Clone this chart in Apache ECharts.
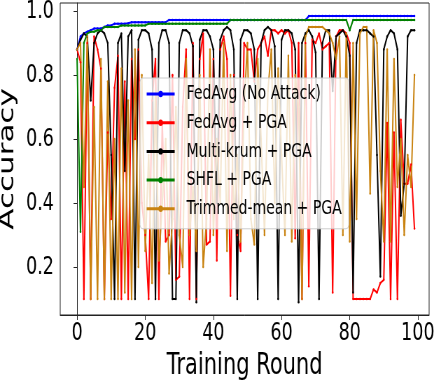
<!DOCTYPE html>
<html>
<head>
<meta charset="utf-8">
<script src="https://cdn.jsdelivr.net/npm/echarts@6/dist/echarts.min.js"></script>
<style>
  html, body { margin: 0; padding: 0; background: #fff; overflow: hidden; }
  /* the reference figure is squeezed horizontally, so draw wide and scale down */
  #chart { width: 623px; height: 382px; transform: scaleX(0.7); transform-origin: 0 0; }
</style>
</head>
<body>
<div id="chart"></div>
<script>
// training rounds 0..99
const rounds = [...new Array(100)].map((_, i) => i)

const xTicks = [0, 20, 40, 60, 80, 100]
const yTicks = [0.2, 0.4, 0.6, 0.8, 1.0]

// FedAvg (No Attack)
const fedAvgClean = [
  0.88, 0.92, 0.93, 0.935, 0.94, 0.945, 0.945, 0.945, 0.95, 0.955,
  0.955, 0.96, 0.96, 0.96, 0.96, 0.962, 0.965, 0.965, 0.965, 0.965,
  0.965, 0.965, 0.965, 0.965, 0.965, 0.965, 0.965, 0.972, 0.972, 0.972,
  0.972, 0.972, 0.972, 0.972, 0.972, 0.972, 0.972, 0.972, 0.972, 0.972,
  0.972, 0.972, 0.972, 0.972, 0.972, 0.972, 0.972, 0.972, 0.972, 0.972,
  0.972, 0.972, 0.972, 0.972, 0.972, 0.972, 0.972, 0.972, 0.972, 0.972,
  0.972, 0.972, 0.972, 0.972, 0.972, 0.972, 0.972, 0.972, 0.984, 0.984,
  0.984, 0.984, 0.984, 0.984, 0.984, 0.984, 0.984, 0.984, 0.984, 0.984,
  0.984, 0.984, 0.984, 0.984, 0.984, 0.984, 0.984, 0.984, 0.984, 0.984,
  0.984, 0.984, 0.984, 0.984, 0.984, 0.984, 0.984, 0.984, 0.984, 0.984
]

// FedAvg + PGA
const fedAvgPga = [
  0.88, 0.84, 0.10, 0.90, 0.10, 0.92, 0.88, 0.82, 0.10, 0.62,
  0.35, 0.76, 0.86, 0.10, 0.78, 0.10, 0.85, 0.60, 0.88, 0.40,
  0.30, 0.10, 0.72, 0.85, 0.10, 0.65, 0.28, 0.30, 0.80, 0.16,
  0.17, 0.70, 0.88, 0.10, 0.90, 0.10, 0.85, 0.93, 0.27, 0.28,
  0.85, 0.22, 0.88, 0.92, 0.85, 0.11, 0.80, 0.30, 0.25, 0.90,
  0.88, 0.88, 0.78, 0.88, 0.90, 0.92, 0.86, 0.94, 0.94, 0.93,
  0.94, 0.93, 0.94, 0.90, 0.29, 0.90, 0.10, 0.90, 0.14, 0.91,
  0.90, 0.93, 0.88, 0.89, 0.90, 0.12, 0.92, 0.94, 0.94, 0.93,
  0.90, 0.10, 0.10, 0.10, 0.10, 0.10, 0.10, 0.13, 0.12, 0.15,
  0.16, 0.65, 0.10, 0.62, 0.10, 0.66, 0.46, 0.46, 0.52, 0.32
]

// Multi-krum + PGA
const multiKrumPga = [
  0.88, 0.91, 0.93, 0.92, 0.72, 0.90, 0.93, 0.94, 0.93, 0.90,
  0.55, 0.10, 0.90, 0.93, 0.50, 0.92, 0.94, 0.10, 0.91, 0.94,
  0.94, 0.93, 0.88, 0.10, 0.90, 0.94, 0.94, 0.90, 0.10, 0.10,
  0.90, 0.94, 0.94, 0.93, 0.89, 0.09, 0.91, 0.94, 0.94, 0.92,
  0.88, 0.40, 0.91, 0.94, 0.95, 0.94, 0.88, 0.10, 0.91, 0.94,
  0.94, 0.93, 0.88, 0.10, 0.90, 0.94, 0.95, 0.94, 0.89, 0.10,
  0.91, 0.94, 0.94, 0.93, 0.88, 0.09, 0.90, 0.93, 0.94, 0.92,
  0.87, 0.10, 0.90, 0.94, 0.94, 0.75, 0.92, 0.93, 0.94, 0.92,
  0.86, 0.12, 0.90, 0.94, 0.94, 0.94, 0.93, 0.92, 0.55, 0.17,
  0.88, 0.92, 0.94, 0.93, 0.88, 0.36, 0.46, 0.92, 0.94, 0.94
]

// SHFL + PGA
const shflPga = [
  0.85, 0.31, 0.90, 0.93, 0.935, 0.935, 0.94, 0.94, 0.95, 0.95,
  0.95, 0.95, 0.95, 0.955, 0.955, 0.955, 0.955, 0.955, 0.955, 0.955,
  0.955, 0.96, 0.96, 0.96, 0.96, 0.96, 0.96, 0.96, 0.96, 0.96,
  0.96, 0.96, 0.96, 0.96, 0.96, 0.96, 0.96, 0.96, 0.96, 0.96,
  0.96, 0.96, 0.96, 0.96, 0.96, 0.972, 0.972, 0.972, 0.972, 0.972,
  0.972, 0.972, 0.972, 0.972, 0.972, 0.972, 0.972, 0.972, 0.972, 0.972,
  0.972, 0.972, 0.972, 0.972, 0.972, 0.972, 0.972, 0.972, 0.972, 0.972,
  0.972, 0.972, 0.972, 0.972, 0.972, 0.972, 0.972, 0.972, 0.972, 0.972,
  0.94, 0.972, 0.972, 0.972, 0.972, 0.972, 0.972, 0.972, 0.972, 0.972,
  0.972, 0.972, 0.972, 0.972, 0.972, 0.972, 0.972, 0.972, 0.972, 0.972
]

// Trimmed-mean + PGA
const trimmedMeanPga = [
  0.88, 0.90, 0.45, 0.92, 0.10, 0.70, 0.10, 0.85, 0.10, 0.78,
  0.10, 0.60, 0.10, 0.82, 0.12, 0.72, 0.10, 0.88, 0.20, 0.80,
  0.25, 0.55, 0.15, 0.75, 0.22, 0.40, 0.60, 0.18, 0.35, 0.70,
  0.30, 0.20, 0.85, 0.30, 0.45, 0.25, 0.80, 0.20, 0.35, 0.88,
  0.30, 0.60, 0.40, 0.90, 0.25, 0.80, 0.35, 0.55, 0.28, 0.70,
  0.90, 0.35, 0.27, 0.85, 0.60, 0.30, 0.75, 0.88, 0.40, 0.82,
  0.55, 0.30, 0.86, 0.28, 0.80, 0.70, 0.10, 0.92, 0.95, 0.95,
  0.95, 0.95, 0.95, 0.94, 0.93, 0.90, 0.85, 0.92, 0.30, 0.93,
  0.28, 0.90, 0.35, 0.93, 0.95, 0.95, 0.43, 0.94, 0.90, 0.50,
  0.28, 0.88, 0.28, 0.85, 0.45, 0.60, 0.30, 0.55, 0.45, 0.80
]

const seriesList = [
  { name: 'FedAvg (No Attack)', color: '#0000ff', data: fedAvgClean },
  { name: 'FedAvg + PGA', color: '#ff0000', data: fedAvgPga },
  { name: 'Multi-krum + PGA', color: '#000000', data: multiKrumPga },
  { name: 'SHFL + PGA', color: '#008000', data: shflPga },
  { name: 'Trimmed-mean + PGA', color: '#c98310', data: trimmedMeanPga }
]

const FONT = 'DejaVu Sans'

const chart = echarts.init(document.getElementById('chart'), null, { renderer: 'canvas' })

const options = {
  animation: false,
  backgroundColor: '#fff',
  grid: {
    left: 86,
    right: 10,
    top: 3,
    bottom: 67,
    outerBoundsMode: 'none',
    containLabel: false,
    show: true,
    borderColor: '#222',
    borderWidth: 1
  },
  legend: {
    orient: 'vertical',
    left: 200,
    top: 78,
    padding: [4, 10, 8, 8],
    itemWidth: 40,
    itemHeight: 8,
    itemGap: 4.7,
    backgroundColor: 'rgba(255,255,255,0.8)',
    borderColor: '#cccccc',
    borderWidth: 1,
    borderRadius: 4,
    lineStyle: { width: 3 },
    textStyle: {
      fontFamily: FONT,
      fontSize: 20,
      lineHeight: 24,
      color: '#000',
      padding: [0, 0, 0, 12]
    },
    data: seriesList.map(s => s.name)
  },
  xAxis: {
    type: 'value',
    min: -4.95,
    max: 103.3,
    name: 'Training Round',
    nameLocation: 'middle',
    nameGap: 33,
    nameTextStyle: { fontFamily: FONT, fontSize: 30, color: '#000' },
    axisLine: { show: true, lineStyle: { color: '#222', width: 1 } },
    axisTick: { show: true, inside: false, length: 5, lineStyle: { color: '#222' }, customValues: xTicks },
    axisLabel: { fontFamily: FONT, fontSize: 25, color: '#000', margin: 6, customValues: xTicks },
    splitLine: { show: false }
  },
  yAxis: {
    type: 'value',
    min: 0.05,
    max: 1.025,
    name: 'Accuracy',
    nameLocation: 'middle',
    nameGap: 49,
    nameTextStyle: { fontFamily: FONT, fontSize: 31, color: '#000' },
    axisLine: { show: true, lineStyle: { color: '#222', width: 1 } },
    axisTick: { show: true, inside: false, length: 5, lineStyle: { color: '#222' }, customValues: yTicks },
    axisLabel: {
      fontFamily: FONT,
      fontSize: 25,
      color: '#000',
      margin: 9,
      customValues: yTicks,
      formatter: v => v.toFixed(1)
    },
    splitLine: { show: false }
  },
  series: seriesList.map(s => ({
    name: s.name,
    type: 'line',
    data: rounds.map((r, i) => [r, s.data[i]]),
    color: s.color,
    lineStyle: { width: 2, color: s.color },
    itemStyle: { color: s.color },
    symbol: 'circle',
    symbolSize: 2.5,
    showSymbol: true,
    clip: true
  }))
}

chart.setOption(options)
</script>
</body>
</html>
